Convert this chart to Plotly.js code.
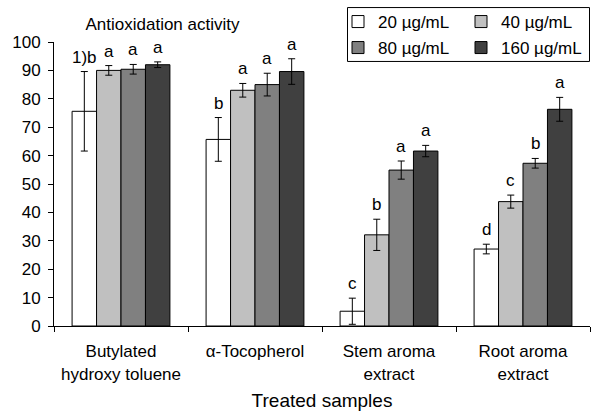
<!DOCTYPE html>
<html>
<head>
<meta charset="utf-8">
<script src="https://cdn.plot.ly/plotly-3.0.1.min.js"></script>
<style>html,body{margin:0;padding:0;background:#fff;}#chart{width:591px;height:413px;}</style>
</head>
<body>
<div id="chart"></div>
<script>
var categories = ['Butylated<br>hydroxy toluene', 'α-Tocopherol', 'Stem aroma<br>extract', 'Root aroma<br>extract'];
var seriesNames = ['20 µg/mL', '40 µg/mL', '80 µg/mL', '160 µg/mL'];
var conc20 = [75.6, 65.7, 5.2, 27.1];
var conc40 = [90.0, 83.0, 32.1, 43.8];
var conc80 = [90.4, 85.0, 54.9, 57.3];
var conc160 = [92.0, 89.6, 61.6, 76.3];
var err20 = [14.0, 7.7, 4.6, 1.7];
var err40 = [1.7, 2.4, 5.5, 2.3];
var err80 = [1.7, 4.0, 3.2, 1.7];
var err160 = [1.0, 4.5, 2.0, 4.2];
var letters20 = ['1)b', 'b', 'c', 'd'];
var letters40 = ['a', 'a', 'b', 'c'];
var letters80 = ['a', 'a', 'a', 'b'];
var letters160 = ['a', 'a', 'a', 'a'];

var values = [conc20, conc40, conc80, conc160];
var errors = [err20, err40, err80, err160];
var letters = [letters20, letters40, letters80, letters160];
var fills = ['#ffffff', '#c0c0c0', '#808080', '#404040'];
var legendIds = ['legend', 'legend2', 'legend3', 'legend4'];
var FONT = 'Liberation Sans, Arial, sans-serif';
var bargap = 0.27;

var traces = values.map(function (v, j) {
  return {
    type: 'bar', name: seriesNames[j], x: categories, y: v,
    legend: legendIds[j],
    marker: {color: fills[j], line: {color: '#000', width: 1}},
    error_y: {type: 'data', array: errors[j], visible: true, color: '#000', thickness: 1, width: 3.5}
  };
});

var annotations = [];
var bw = (1 - bargap) / 4;
values.forEach(function (v, j) {
  v.forEach(function (val, i) {
    annotations.push({
      x: i + (j - 1.5) * bw, y: val + errors[j][i], xref: 'x', yref: 'y',
      text: letters[j][i], showarrow: false, yanchor: 'bottom', yshift: 3,
      font: {family: FONT, size: 17, color: '#000'}
    });
  });
});

function legendAt(px, py) {
  return {orientation: 'h', x: px / 591, xanchor: 'left', xref: 'container',
          y: 1 - py / 413, yref: 'container', yanchor: 'top',
          bgcolor: 'rgba(0,0,0,0)', borderwidth: 0,
          font: {family: FONT, size: 17, color: '#000'}};
}

var layout = {
  width: 591, height: 413,
  margin: {l: 54, r: 1, t: 42, b: 87, autoexpand: false},
  paper_bgcolor: '#fff', plot_bgcolor: '#fff',
  font: {family: FONT, size: 17, color: '#000'},
  barmode: 'group', bargap: bargap, bargroupgap: 0,
  showlegend: true,
  title: {text: 'Antioxidation activity', x: 162.5 / 591, xanchor: 'center', y: 0.942, yanchor: 'middle',
          font: {family: FONT, size: 17, color: '#000'}},
  xaxis: {
    type: 'category', showline: true, linecolor: '#000', linewidth: 1,
    ticks: 'outside', tickson: 'boundaries', ticklen: 5, tickcolor: '#000',
    ticklabelstandoff: 10,
    tickfont: {family: FONT, size: 17, color: '#000'},
    title: {text: 'Treated samples', font: {family: FONT, size: 19, color: '#000'}, standoff: 11},
    showgrid: false, zeroline: false, fixedrange: true
  },
  yaxis: {
    range: [0, 100], dtick: 10, showline: true, linecolor: '#000', linewidth: 1,
    ticks: 'outside', ticklen: 5, tickcolor: '#000', showgrid: false, zeroline: false,
    ticklabelstandoff: 4,
    tickfont: {family: FONT, size: 17, color: '#000'}
  },
  legend: legendAt(338, 4),
  legend2: legendAt(461, 4),
  legend3: legendAt(338, 30),
  legend4: legendAt(461, 30),
  shapes: [{type: 'rect', xref: 'paper', yref: 'paper',
            x0: (347.5 - 54) / 536, x1: (589.5 - 54) / 536,
            y0: (326.5 - 61.5) / 284.5, y1: (326.5 - 7.5) / 284.5,
            line: {color: '#000', width: 1}, fillcolor: 'rgba(0,0,0,0)'}],
  annotations: annotations
};

Plotly.newPlot('chart', traces, layout, {displayModeBar: false, staticPlot: true});
</script>
</body>
</html>
